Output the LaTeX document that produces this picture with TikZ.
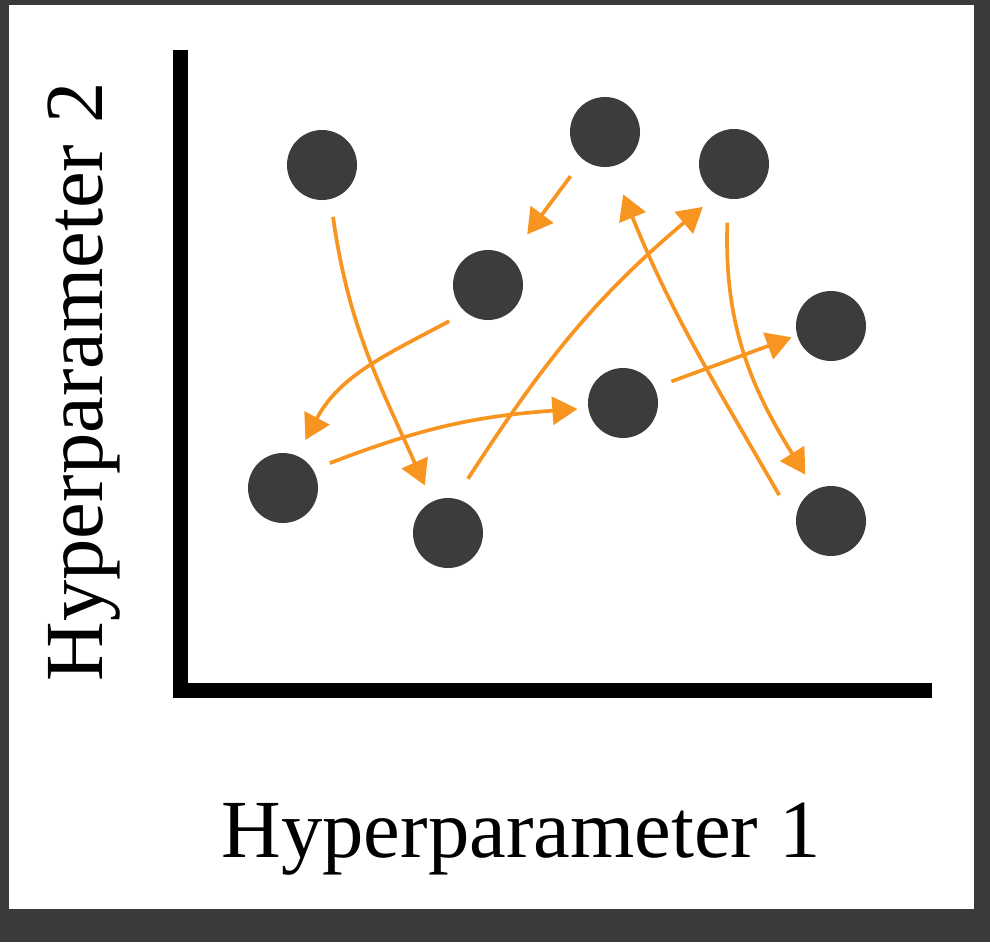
\documentclass[tikz,border=0pt]{standalone}
\usepackage{fontspec}
\newfontfamily\labelfont{Liberation Serif}
\usetikzlibrary{arrows.meta}
\definecolor{FrameGray}{RGB}{58,58,58}
\definecolor{DotGray}{RGB}{60,60,60}
\definecolor{TrialOrange}{RGB}{248,148,32}
\tikzset{
  trial/.style={circle,fill=DotGray,minimum size=1.4cm,inner sep=0pt,
    outer sep=0.36cm},
  hop/.style={-{Triangle[length=0.5cm,width=0.56cm]},line width=2.1pt,
    TrialOrange},
  axis/.style={line width=0.3cm,black},
  axislabel/.style={font=\labelfont\fontsize{47}{54}\selectfont}
}
\begin{document}
\begin{tikzpicture}[x=0.2mm,y=-0.2mm]
  \fill[FrameGray] (0,0) rectangle (990,942);
  \fill[white] (9,5) rectangle (974,909);
  \useasboundingbox (0,0) rectangle (990,942);

  % axes
  \coordinate (ytop) at (180,50);
  \coordinate (origin) at (180,690);
  \coordinate (xend) at (932,690);
  \draw[axis] (ytop) -- (origin) -- (xend);
  \node[axislabel,anchor=base] (xlab) at (521,857) {Hyperparameter 1};
  \node[axislabel,rotate=90,anchor=base] (ylab) at (102,382) {Hyperparameter 2};

  % trials
  \node[trial] (a) at (322,165) {};
  \node[trial] (b) at (605,132) {};
  \node[trial] (c) at (734,164) {};
  \node[trial] (d) at (488,285) {};
  \node[trial] (e) at (831,326) {};
  \node[trial] (f) at (623,403) {};
  \node[trial] (g) at (283,488) {};
  \node[trial] (h) at (448,533) {};
  \node[trial] (i) at (831,521) {};

  % search path
  \draw[hop] (a.-78) to[out=-82,in=114] (h.116);
  \draw[hop,shorten <=0.06cm,shorten >=0.22cm] (b.-128) -- (d.52);
  \draw[hop] (d.-137) to[out=-152,in=62] (g.65);
  \draw[hop,shorten >=-0.14cm] (g.28) to[out=21,in=184] (f.187);
  \draw[hop,shorten <=0.1cm] (h.71) to[out=57,in=-140] (c.-126);
  \draw[hop,shorten >=-0.24cm] (f.24) -- (e.197);
  \draw[hop,shorten <=0.12cm] (c.-97) to[out=-92,in=122] (i.119);
  \draw[hop,shorten <=0.12cm,shorten >=0.24cm] (i.157) to[out=120,in=-68] (b.-75);
\end{tikzpicture}
\end{document}
